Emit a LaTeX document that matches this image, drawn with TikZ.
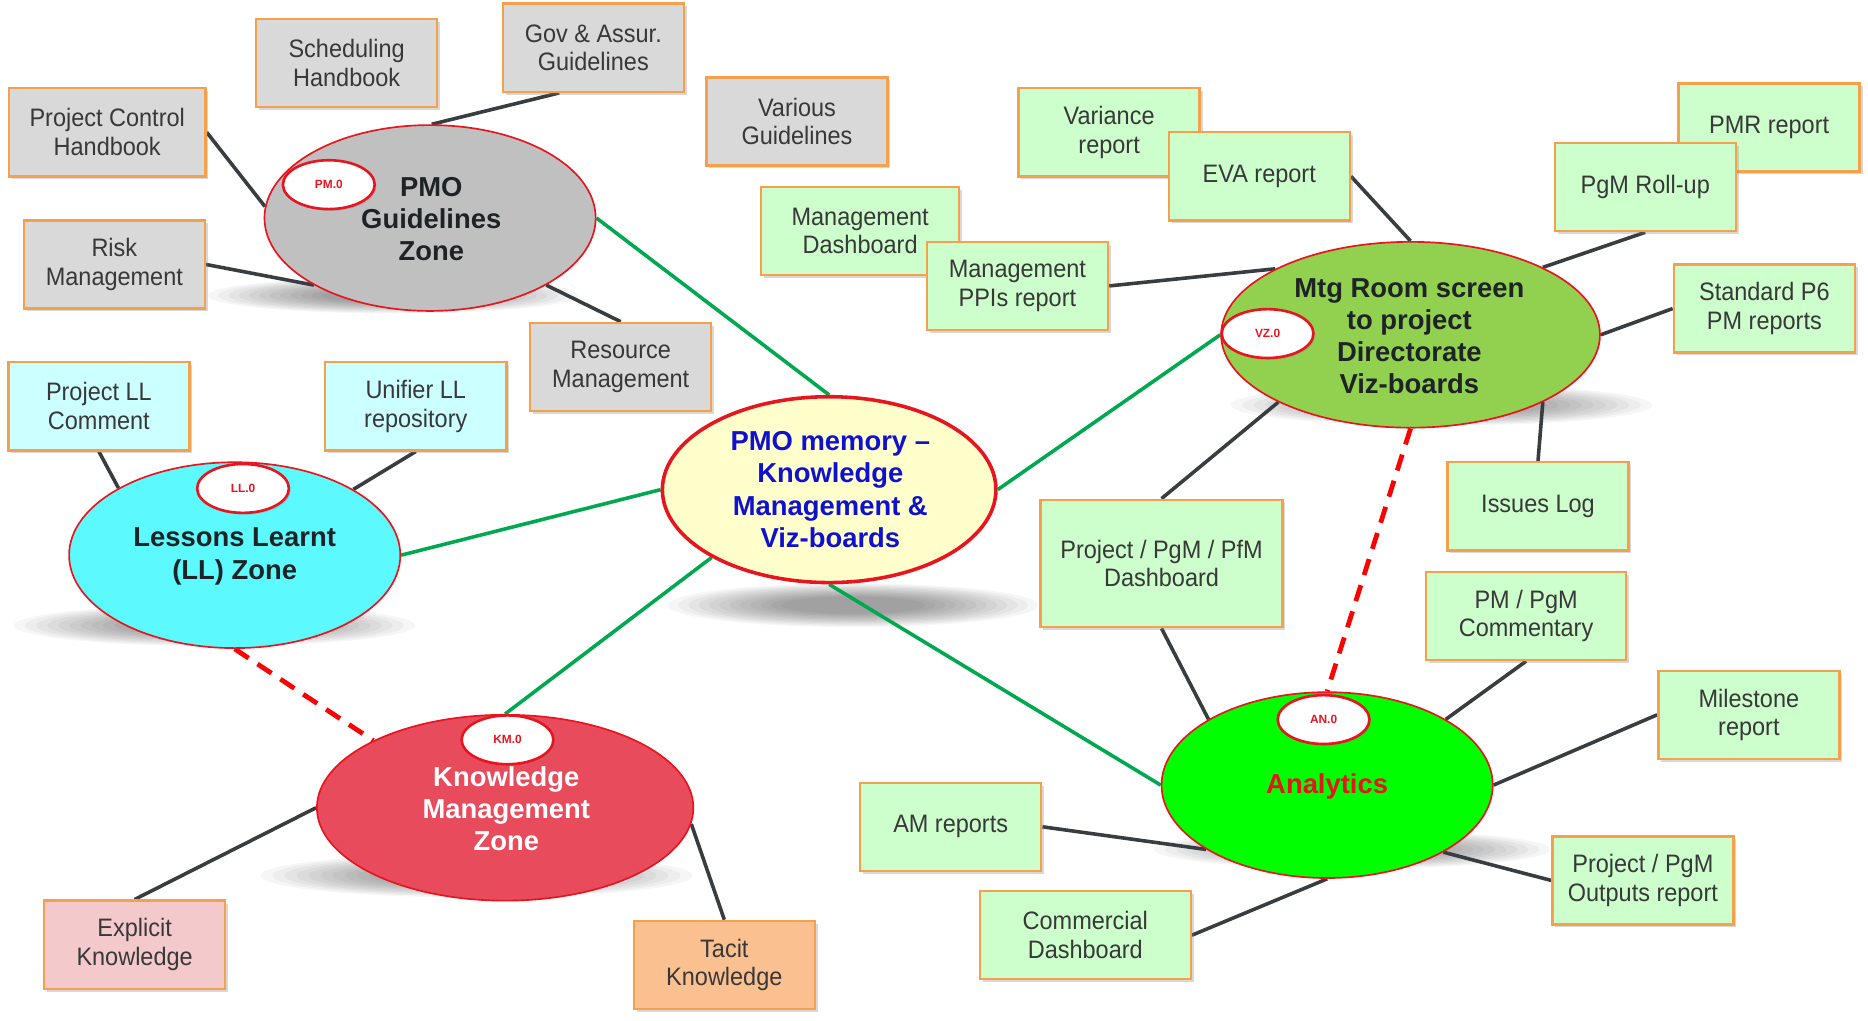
\documentclass[tikz,border=0pt]{standalone}
\usepackage{fontspec}
\setmainfont{Liberation Sans}
\newfontfamily\narrowfont[FakeStretch=0.93]{Liberation Sans}
\usetikzlibrary{shapes.geometric,shadows}
\definecolor{boxgray}{HTML}{D9D9D9}
\definecolor{boxorange}{HTML}{F5A04C}
\definecolor{boxcyan}{HTML}{CCFFFF}
\definecolor{boxgreen}{HTML}{CCFFCC}
\definecolor{boxpink}{HTML}{F4C9CC}
\definecolor{boxtacit}{HTML}{FAC090}
\definecolor{txtgray}{HTML}{383838}
\definecolor{linegray}{HTML}{383D42}
\definecolor{linegreen}{HTML}{00A850}
\definecolor{ellred}{HTML}{E8141E}
\definecolor{pmgfill}{HTML}{C0C0C0}
\definecolor{memfill}{HTML}{FFFFCC}
\definecolor{llfill}{HTML}{5CF9FF}
\definecolor{mtgfill}{HTML}{92D050}
\definecolor{kmfill}{HTML}{E84C5C}
\definecolor{anfill}{HTML}{00FF00}
\definecolor{memblue}{HTML}{1010D0}
\definecolor{darktext}{HTML}{1E2326}
\pgfdeclarelayer{shad}
\pgfdeclarelayer{lines}
\pgfsetlayers{shad,lines,main}
\tikzset{
  infobox/.style={rectangle, draw=boxorange, line width=1pt, minimum width=76pt, minimum height=37pt,
    align=center, inner sep=1pt, text=txtgray, font=\narrowfont\fontsize{10.6}{12}\selectfont,
    drop shadow={opacity=0.3, shadow xshift=1.2pt, shadow yshift=-1.2pt}},
  zone/.style={ellipse, draw=ellred, line width=0.7pt, inner sep=0pt},
  ztext/.style={align=center, font=\bfseries\fontsize{11.5}{13.5}\selectfont},
  tagell/.style={ellipse, draw=ellred, fill=white, line width=1.1pt, minimum width=38.5pt, minimum height=20.5pt,
    inner sep=0pt, text=ellred, font=\bfseries\fontsize{5}{6}\selectfont,
    drop shadow={opacity=0.25, shadow xshift=0.8pt, shadow yshift=-0.8pt}},
  gline/.style={linegray, line width=1.5pt},
  grline/.style={linegreen, line width=1.5pt},
  rdash/.style={red, line width=2pt, dash pattern=on 7pt off 4.5pt},
  eshadow/.style={black, opacity=0.035}
}
\begin{document}
\begin{tikzpicture}[x=0.5pt,y=-0.5pt]
\path[use as bounding box] (0,0) rectangle (1568,857);

% background and soft ellipse shadows
\begin{pgfonlayer}{shad}
\fill[white] (0,0) rectangle (1568,857);
\foreach \cx/\cy/\rx/\ry in {330/248/72/7, 716/508/72/8.5, 180/525/78/8, 1210/340/82/8, 400/735/84/8.5, 1135/713/77/7.5}{
  \foreach \s in {1.08,1.02,0.96,0.9,0.84,0.78,0.72,0.66,0.6,0.54,0.48,0.42}{
    \fill[eshadow] (\cx,\cy) ellipse [x radius=\s*\rx pt, y radius=\s*\ry pt];
  }
}
\end{pgfonlayer}

% boxes
\node[infobox, fill=boxgray] (sched) at (291,53) {Scheduling\\Handbook};
\node[infobox, fill=boxgray] (gov) at (498,40) {Gov \& Assur.\\Guidelines};
\node[infobox, fill=boxgray, minimum width=82.5pt] (pch) at (90,111) {Project Control\\Handbook};
\node[infobox, fill=boxgray] (various) at (669,102) {Various\\Guidelines};
\node[infobox, fill=boxgray] (risk) at (96,222) {Risk\\Management};
\node[infobox, fill=boxgray] (res) at (521,308) {Resource\\Management};
\node[infobox, fill=boxcyan] (pll) at (83,341) {Project LL\\Comment};
\node[infobox, fill=boxcyan] (ull) at (349,341) {Unifier LL\\repository};
\node[infobox, fill=boxgreen] (var) at (931,111) {Variance\\report};
\node[infobox, fill=boxgreen] (eva) at (1057,148) {EVA report};
\node[infobox, fill=boxgreen, minimum width=83pt] (mdash) at (722,194) {Management\\Dashboard};
\node[infobox, fill=boxgreen] (ppi) at (854,240) {Management\\PPIs report};
\node[infobox, fill=boxgreen] (pmr) at (1485,107) {PMR report};
\node[infobox, fill=boxgreen] (pgm) at (1381,157) {PgM Roll-up};
\node[infobox, fill=boxgreen] (p6) at (1481,259) {Standard P6\\PM reports};
\node[infobox, fill=boxgreen] (iss) at (1291,425) {Issues Log};
\node[infobox, fill=boxgreen, minimum width=101.5pt, minimum height=53.5pt] (dash) at (975,473) {Project / PgM / PfM\\Dashboard};
\node[infobox, fill=boxgreen, minimum width=84pt] (comm) at (1281,517) {PM / PgM\\Commentary};
\node[infobox, fill=boxgreen] (mile) at (1468,600) {Milestone\\report};
\node[infobox, fill=boxgreen] (am) at (798,694) {AM reports};
\node[infobox, fill=boxgreen, minimum width=88.5pt] (cd) at (911,785) {Commercial\\Dashboard};
\node[infobox, fill=boxgreen] (out) at (1379,739) {Project / PgM\\Outputs report};
\node[infobox, fill=boxpink] (expl) at (113,793) {Explicit\\Knowledge};
\node[infobox, fill=boxtacit] (tacit) at (608,810) {Tacit\\Knowledge};

% zones
\node[zone, fill=pmgfill, minimum width=139pt, minimum height=78pt] (pmg) at (361,183) {};
\node[ztext, text=darktext] (pmgT) at (362,184) {PMO\\Guidelines\\Zone};
\node[tagell] (pmtag) at (276,155) {PM.0};

\node[zone, fill=memfill, line width=1.5pt, minimum width=140pt, minimum height=78pt] (mem) at (696,411) {};
\node[ztext, text=memblue] (memT) at (697,411) {PMO memory --\\Knowledge\\Management \&\\Viz-boards};

\node[zone, fill=llfill, minimum width=139pt, minimum height=78pt] (ll) at (197,466) {};
\node[ztext, text=darktext] (llT) at (197,467) {Lessons Learnt\\(LL) Zone};
\node[tagell] (lltag) at (204,410) {LL.0};

\node[zone, fill=mtgfill, minimum width=159pt, minimum height=78pt] (mtg) at (1184,281) {};
\node[ztext, text=darktext] (mtgT) at (1183,282) {Mtg Room screen\\to project\\Directorate\\Viz-boards};
\node[tagell] (vztag) at (1064,280) {VZ.0};

\node[zone, fill=kmfill, minimum width=158pt, minimum height=78pt] (km) at (424,678) {};
\node[ztext, text=white] (kmT) at (425,679) {Knowledge\\Management\\Zone};
\node[tagell] (kmtag) at (426,621) {KM.0};

\node[zone, fill=anfill, minimum width=139pt, minimum height=78pt] (an) at (1114,659) {};
\node[ztext, text=ellred] (anT) at (1114,660) {Analytics};
\node[tagell] (antag) at (1111,604) {AN.0};

% connectors
\begin{pgfonlayer}{lines}
\draw[gline] (gov.233) -- (pmg.89);
\draw[gline] (pch.east) -- (pmg.176);
\draw[gline] (risk.east) -- (pmg.210);
\draw[gline] (res.north) -- (pmg.330);
\draw[gline] (pll.south) -- (ll.150);
\draw[gline] (ull.south) -- (ll.29);
\draw[gline] (expl.north) -- (km.180);
\draw[gline] (tacit.north) -- (km.355);
\draw[gline] (ppi.east) -- (mtg.154);
\draw[gline] (eva.east) -- (mtg.90);
\draw[gline] (pgm.south) -- (mtg.27);
\draw[gline] (p6.west) -- (mtg.0);
\draw[gline] (iss.north) -- (mtg.333);
\draw[gline] (dash.north) -- (mtg.207);
\draw[gline] (dash.south) -- (an.151);
\draw[gline] (comm.south) -- (an.29);
\draw[gline] (mile.west) -- (an.0);
\draw[gline] (am.east) -- (an.208);
\draw[gline] (cd.east) -- (an.270);
\draw[gline] (out.west) -- (an.330);
\draw[grline] (pmg.0) -- (mem.90);
\draw[grline] (ll.0) -- (mem.180);
\draw[grline] (km.90) -- (mem.210);
\draw[grline] (mem.270) -- (an.180);
\draw[grline] (mem.0) -- (mtg.180);
\draw[rdash] (ll.270) -- (km.153);
\draw[rdash] (mtg.270) -- (an.90);
\end{pgfonlayer}
\end{tikzpicture}
\end{document}
